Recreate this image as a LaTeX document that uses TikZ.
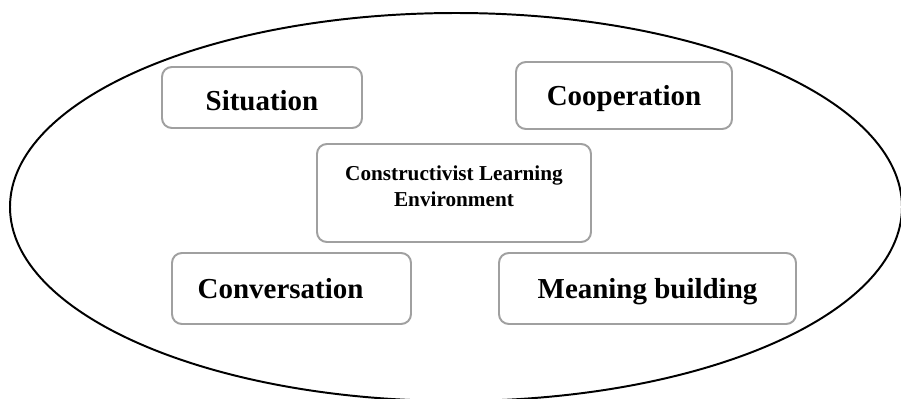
\documentclass[tikz,border=0pt]{standalone}
\usepackage{fontspec}
\setmainfont{Liberation Serif}
\usepackage{xcolor}
\definecolor{boxgray}{RGB}{160,160,160}
\usepackage{tikz}
\usetikzlibrary{positioning}
\usetikzlibrary{shapes}

\begin{document}
\begin{tikzpicture}[
            	    border/.style = { ellipse, draw, black, line width = 1.4pt, inner sep=0pt, outer sep=0pt },
            		topic/.style = { rectangle, rounded corners = 7pt, draw = boxgray, line width = 1.4pt, text = black, font = \bfseries\fontsize{20.6}{24}\selectfont, text height = 13.6pt, text depth = 0pt, inner sep=0pt, outer sep=0pt },
            		core/.style = { topic, align = center, font = \bfseries\fontsize{15.1}{18.5}\selectfont, text height = {}, text depth = 10pt },
            		]
            		\def\oneUnit{0.25cm}
            		
            		\useasboundingbox (0,0) rectangle (90.1*\oneUnit,-39.8*\oneUnit);
            		
            		\node[border, minimum width = 89.2*\oneUnit, minimum height = 38.8*\oneUnit] (ENV) at (45.6*\oneUnit,-20.7*\oneUnit) {};
            		
            		\node[topic, minimum width = 20*\oneUnit, minimum height = 6.1*\oneUnit, text height = 17.8pt] (SIT) at (26.2*\oneUnit,-9.75*\oneUnit) {Situation};
            		\node[topic, minimum width = 21.6*\oneUnit, minimum height = 6.7*\oneUnit] (COOP) at (62.4*\oneUnit,-9.55*\oneUnit) {Cooperation};
            		
            		\node[core, minimum width = 27.4*\oneUnit, minimum height = 9.8*\oneUnit] (CLE) at (45.4*\oneUnit,-19.3*\oneUnit) {Constructivist Learning\\Environment};
            		
            		\node[topic, minimum width = 23.9*\oneUnit, minimum height = 7.1*\oneUnit] (CONV) at (29.15*\oneUnit,-28.85*\oneUnit) {Conversation\rule{15.6pt}{0pt}};
            		\node[topic, minimum width = 29.7*\oneUnit, minimum height = 7.1*\oneUnit] (MEAN) at (64.75*\oneUnit,-28.85*\oneUnit) {Meaning building};
            		
\end{tikzpicture}
\end{document}
